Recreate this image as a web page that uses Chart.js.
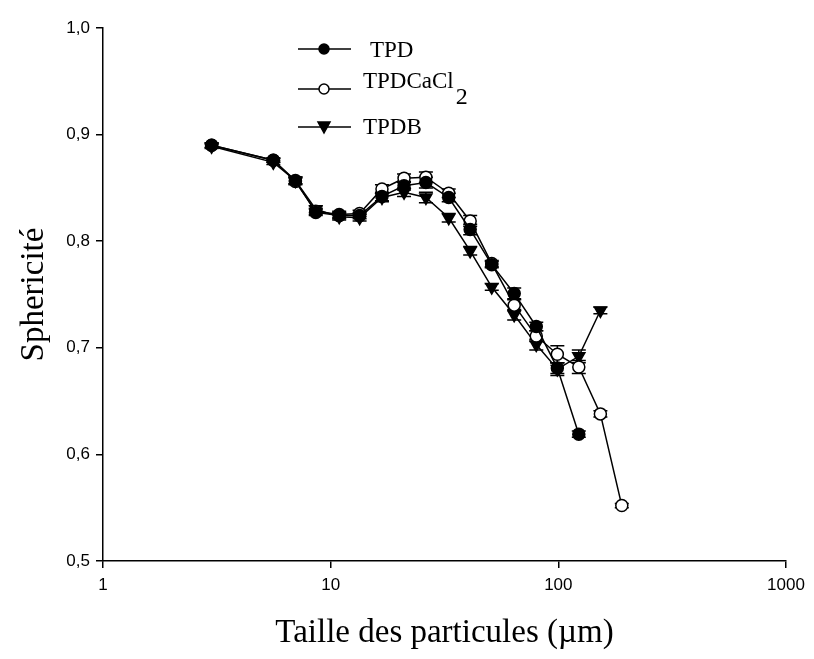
<!DOCTYPE html>
<html>
<head>
<meta charset="utf-8">
<script src="https://cdn.jsdelivr.net/npm/chart.js@4.4.1/dist/chart.umd.min.js"></script>
<style>
  html, body { margin: 0; padding: 0; background: #fff; }
  #wrap { width: 814px; height: 659px; }
</style>
</head>
<body>
<div id="wrap"><canvas id="chart" width="814" height="659"></canvas></div>
<script>
// particle size classes (µm)
const sizesTPD = [3.0, 5.6, 7.0, 8.6, 10.9, 13.4, 16.8, 21.0, 26.2, 33.0, 41.0, 51.0, 64.0, 80.0, 99.0, 123.0];
const sizesCaCl2 = [3.0, 5.6, 7.0, 8.6, 10.9, 13.4, 16.8, 21.0, 26.2, 33.0, 41.0, 51.0, 64.0, 80.0, 99.0, 123.0, 153.0, 190.0];
const sizesTPDB = [3.0, 5.6, 7.0, 8.6, 10.9, 13.4, 16.8, 21.0, 26.2, 33.0, 41.0, 51.0, 64.0, 80.0, 99.0, 123.0, 153.0];

// sphericity
const valuesTPD = [0.890, 0.876, 0.857, 0.827, 0.824, 0.824, 0.842, 0.852, 0.855, 0.841, 0.811, 0.778, 0.751, 0.720, 0.681, 0.619];
const valuesCaCl2 = [0.890, 0.876, 0.856, 0.828, 0.825, 0.826, 0.849, 0.859, 0.860, 0.845, 0.819, 0.779, 0.740, 0.711, 0.694, 0.682, 0.638, 0.552];
const valuesTPDB = [0.889, 0.874, 0.857, 0.830, 0.823, 0.822, 0.841, 0.846, 0.841, 0.822, 0.791, 0.757, 0.731, 0.703, 0.680, 0.692, 0.735];

// standard deviations
const errTPD = [0.002, 0.002, 0.003, 0.003, 0.003, 0.003, 0.004, 0.004, 0.005, 0.004, 0.005, 0.003, 0.005, 0.004, 0.005, 0.003];
const errCaCl2 = [0.002, 0.002, 0.003, 0.003, 0.003, 0.003, 0.004, 0.004, 0.005, 0.004, 0.005, 0.003, 0.005, 0.005, 0.008, 0.006, 0.003, 0.002];
const errTPDB = [0.002, 0.002, 0.003, 0.003, 0.003, 0.003, 0.004, 0.004, 0.005, 0.004, 0.004, 0.003, 0.005, 0.005, 0.006, 0.006, 0.003];

const xTicks = [1, 10, 100, 1000];
const seriesNames = ['TPD', 'TPDCaCl2', 'TPDB'];

const toPoints = (xs, ys) => xs.map((x, i) => ({ x, y: ys[i] }));

const errorBars = {
  id: 'errorBars',
  beforeDatasetsDraw(chart) {
    const { ctx, scales: { x, y } } = chart;
    const errs = [errTPD, errCaCl2, errTPDB];
    ctx.save();
    ctx.strokeStyle = '#000';
    ctx.lineWidth = 1.5;
    chart.data.datasets.forEach((ds, di) => {
      ds.data.forEach((p, i) => {
        const e = errs[di][i];
        const px = x.getPixelForValue(p.x);
        const top = y.getPixelForValue(p.y + e);
        const bot = y.getPixelForValue(p.y - e);
        ctx.beginPath();
        ctx.moveTo(px, top); ctx.lineTo(px, bot);
        ctx.moveTo(px - 7, top); ctx.lineTo(px + 7, top);
        ctx.moveTo(px - 7, bot); ctx.lineTo(px + 7, bot);
        ctx.stroke();
      });
    });
    ctx.restore();
  }
};

const legendBox = {
  id: 'legendBox',
  afterDraw(chart) {
    const { ctx } = chart;
    const rows = [
      { y: 49, ty: 57, style: 'circle', fill: '#000', label: 'TPD', tx: 370 },
      { y: 89, ty: 88, style: 'circle', fill: '#fff', label: 'TPDCaCl', sub: '2', tx: 363 },
      { y: 127, ty: 134, style: 'tri', fill: '#000', label: 'TPDB', tx: 363 }
    ];
    ctx.save();
    ctx.strokeStyle = '#000';
    ctx.lineWidth = 1.5;
    rows.forEach(r => {
      ctx.beginPath();
      ctx.moveTo(298, r.y); ctx.lineTo(351, r.y);
      ctx.stroke();
      ctx.beginPath();
      if (r.style === 'circle') {
        ctx.arc(324, r.y, 5, 0, Math.PI * 2);
      } else {
        ctx.moveTo(318, r.y - 5); ctx.lineTo(330, r.y - 5); ctx.lineTo(324, r.y + 6); ctx.closePath();
      }
      ctx.fillStyle = r.fill;
      ctx.fill();
      ctx.stroke();
      ctx.fillStyle = '#000';
      ctx.font = '23px "Liberation Serif", "Times New Roman", serif';
      ctx.textBaseline = 'alphabetic';
      ctx.fillText(r.label, r.tx, r.ty);
      if (r.sub) {
        const w = ctx.measureText(r.label).width;
        ctx.font = '24px "Liberation Serif", "Times New Roman", serif';
        ctx.fillText(r.sub, r.tx + w + 2, r.ty + 16);
      }
    });
    ctx.restore();
  }
};

const common = {
  borderColor: '#000',
  borderWidth: 1.5,
  pointBorderColor: '#000',
  pointBorderWidth: 1.5,
  pointRadius: 6,
  pointHoverRadius: 6,
  tension: 0
};

new Chart(document.getElementById('chart'), {
  type: 'line',
  data: {
    datasets: [
      { ...common, label: seriesNames[0], data: toPoints(sizesTPD, valuesTPD), pointStyle: 'circle', pointBackgroundColor: '#000' },
      { ...common, label: seriesNames[1], data: toPoints(sizesCaCl2, valuesCaCl2), pointStyle: 'circle', pointBackgroundColor: '#fff' },
      { ...common, label: seriesNames[2], data: toPoints(sizesTPDB, valuesTPDB), pointStyle: 'triangle', pointRotation: 180, pointRadius: 7, pointHoverRadius: 7, pointBackgroundColor: '#000' }
    ]
  },
  options: {
    responsive: false,
    animation: false,
    layout: { padding: { top: 28, right: 28, left: 0, bottom: 0 } },
    plugins: { legend: { display: false }, tooltip: { enabled: false } },
    scales: {
      x: {
        type: 'logarithmic',
        min: 1,
        max: 1000,
        afterBuildTicks: axis => { axis.ticks = xTicks.map(v => ({ value: v })); },
        afterFit: axis => { axis.height = 98; },
        ticks: {
          color: '#000',
          font: { family: '"Liberation Sans", Arial, sans-serif', size: 17 },
          padding: 7,
          maxRotation: 0,
          autoSkip: false,
          callback: v => String(v)
        },
        grid: { drawOnChartArea: false, drawTicks: true, tickLength: 7, color: '#000', lineWidth: 1.5 },
        border: { display: true, color: '#000', width: 1.5 },
        title: {
          display: true,
          text: 'Taille des particules (µm)',
          color: '#000',
          font: { family: '"Liberation Serif", "Times New Roman", serif', size: 33 },
          padding: { top: 0, bottom: 6 }
        }
      },
      y: {
        min: 0.5,
        max: 1.0,
        afterFit: axis => { axis.width = 103; },
        ticks: {
          stepSize: 0.1,
          color: '#000',
          font: { family: '"Liberation Sans", Arial, sans-serif', size: 17 },
          padding: 6,
          callback: v => v.toFixed(1).replace('.', ',')
        },
        grid: { drawOnChartArea: false, drawTicks: true, tickLength: 7, color: '#000', lineWidth: 1.5 },
        border: { display: true, color: '#000', width: 1.5 },
        title: {
          display: true,
          text: 'Sphericité',
          color: '#000',
          font: { family: '"Liberation Serif", "Times New Roman", serif', size: 33 },
          padding: { top: 15, bottom: 0 }
        }
      }
    }
  },
  plugins: [errorBars, legendBox]
});
</script>
</body>
</html>
